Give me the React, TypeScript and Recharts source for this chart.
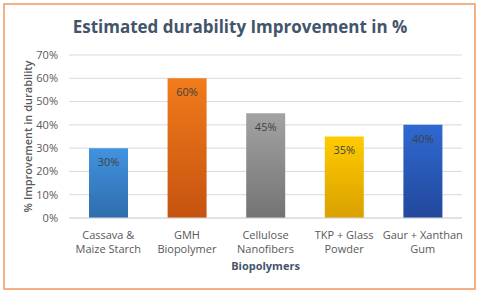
import { BarChart, Bar, XAxis, YAxis, CartesianGrid, Cell, LabelList } from "recharts";

const categories = [
  "Cassava &\nMaize Starch",
  "GMH\nBiopolymer",
  "Cellulose\nNanofibers",
  "TKP + Glass\nPowder",
  "Gaur + Xanthan\nGum",
];
const improvement = [30, 60, 45, 35, 40];
const yTicks = [0, 10, 20, 30, 40, 50, 60, 70];

// top / bottom colour of each bar's gradient
const barColors = [
  ["#4193E0", "#2F6DAD"],
  ["#F27B1C", "#C5530F"],
  ["#A3A3A3", "#737373"],
  ["#FFCC00", "#D9A000"],
  ["#2F69D0", "#22489C"],
];

const data = categories.map((name, i) => ({ name, value: improvement[i] }));

const font = "'Open Sans', sans-serif";

function CategoryTick(props: any) {
  const { x, y, payload } = props;
  const lines = String(payload.value).split("\n");
  return (
    <text x={x} y={y} textAnchor="middle" fill="#595959" fontSize={11} fontFamily={font}>
      {lines.map((line, i) => (
        <tspan key={i} x={x} dy={i === 0 ? 13 : 14}>
          {line}
        </tspan>
      ))}
    </text>
  );
}

export default function App() {
  return (
    <div style={{ position: "absolute", left: 0, top: 0, width: 480, height: 294, background: "#fff", fontFamily: font }}>
      <div
        style={{
          position: "absolute",
          left: 3,
          top: 3,
          width: 469,
          height: 283,
          border: "2px solid #F4B183",
        }}
      />
      <div
        style={{
          position: "absolute",
          left: 0,
          top: 15,
          width: 480,
          textAlign: "center",
          fontSize: 17,
          fontWeight: 700,
          color: "#44546A",
        }}
      >
        Estimated durability Improvement in %
      </div>
      <div style={{ position: "absolute", left: 0, top: 0 }}>
        <BarChart width={480} height={294} data={data} margin={{ top: 55, right: 18, bottom: 0, left: 0 }}>
          <defs>
            {barColors.map((c, i) => (
              <linearGradient key={i} id={`barGrad${i}`} x1="0" y1="0" x2="0" y2="1">
                <stop offset="0%" stopColor={c[0]} />
                <stop offset="100%" stopColor={c[1]} />
              </linearGradient>
            ))}
          </defs>
          <CartesianGrid vertical={false} stroke="#D9D9D9" />
          <XAxis
            dataKey="name"
            height={76}
            interval={0}
            tickLine={false}
            axisLine={{ stroke: "#D9D9D9" }}
            tick={<CategoryTick />}
            label={{
              value: "Biopolymers",
              position: "insideBottom",
              offset: 24,
              fill: "#44546A",
              fontSize: 11,
              fontWeight: 700,
              fontFamily: font,
            }}
          />
          <YAxis
            width={69}
            domain={[0, 70]}
            ticks={yTicks}
            tickFormatter={(v) => `${v}%`}
            tickLine={false}
            axisLine={false}
            tickMargin={5}
            tick={{ fill: "#595959", fontSize: 11, fontFamily: font }}
            label={{
              value: "% Improvement in durability",
              angle: -90,
              position: "insideLeft",
              offset: 28,
              style: { textAnchor: "middle" },
              fill: "#595959",
              fontSize: 11,
              fontWeight: 600,
              fontFamily: font,
            }}
          />
          <Bar dataKey="value" barSize={39} isAnimationActive={false}>
            {data.map((_, i) => (
              <Cell key={i} fill={`url(#barGrad${i})`} />
            ))}
            <LabelList
              dataKey="value"
              position="insideTop"
              offset={10}
              formatter={(v: any) => `${v}%`}
              fill="#404040"
              fontSize={11}
              fontFamily={font}
            />
          </Bar>
        </BarChart>
      </div>
    </div>
  );
}
